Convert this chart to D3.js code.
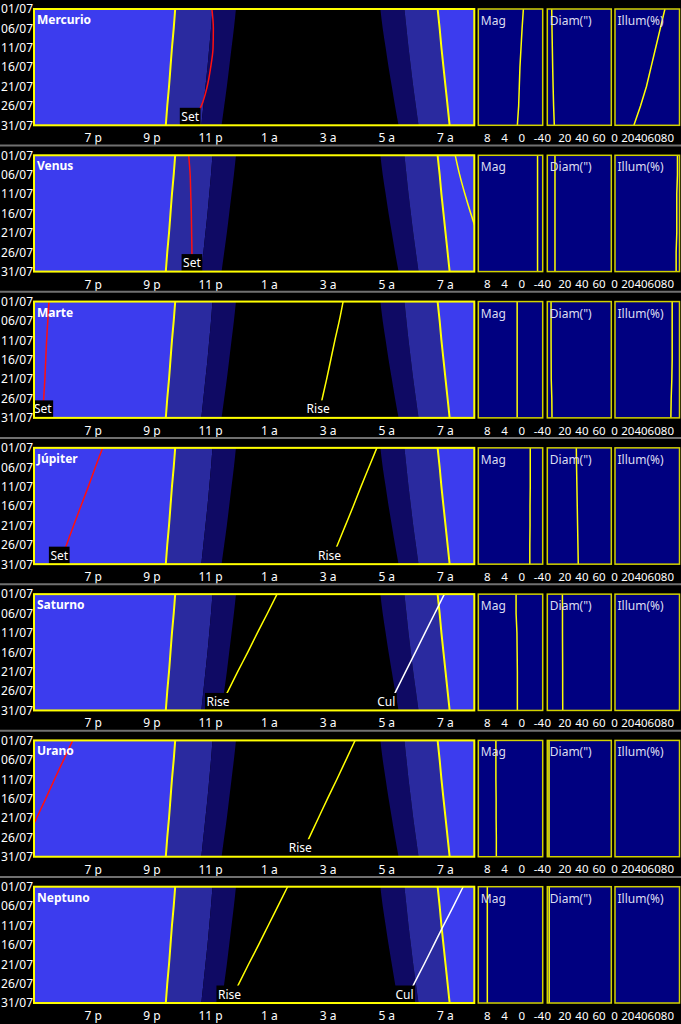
<!DOCTYPE html>
<html><head><meta charset="utf-8">
<script src="https://cdn.jsdelivr.net/npm/d3@7"></script>
<style>
body{margin:0;background:#000;}
svg{display:block;font-family:"Noto Sans","Open Sans",sans-serif;}
</style>
</head><body>
<svg id="chart" width="681" height="1024"></svg>
<script>
// ---------- data ----------
const days = [1, 6, 11, 16, 21, 26, 31];
const dateTicks = [1, 6, 11, 16, 21, 26, 31];
const dateLabels = ["01/07", "06/07", "11/07", "16/07", "21/07", "26/07", "31/07"];
const hourTicks = [19, 21, 23, 25, 27, 29, 31];
const hourLabels = ["7 p", "9 p", "11 p", "1 a", "3 a", "5 a", "7 a"];
const magTicks = [8, 4, 0, -4];
const diamTicks = [0, 20, 40, 60];
const illumTicks = [0, 20, 40, 60, 80];

// twilight boundaries (hours, morning values > 24)
const sunsetH       = [21.81, 21.76, 21.70, 21.65, 21.60, 21.54, 21.49];
const civilDuskH    = [23.08, 23.03, 22.97, 22.91, 22.84, 22.77, 22.70];
const nauticalDuskH = [23.88, 23.81, 23.73, 23.65, 23.57, 23.48, 23.39];
const nauticalDawnH = [28.80, 28.88, 28.98, 29.08, 29.19, 29.30, 29.42];
const civilDawnH    = [29.62, 29.69, 29.76, 29.84, 29.92, 30.01, 30.10];
const sunriseH      = [30.75, 30.82, 30.88, 30.95, 31.02, 31.09, 31.16];

const planetNames = ["Mercurio", "Venus", "Marte", "Júpiter", "Saturno", "Urano", "Neptuno"];

// events (hours)
const mercurioSet = [23.06, 23.11, 23.10, 23.02, 22.90, 22.70, 22.32];
const venusSet    = [22.27, 22.32, 22.34, 22.36, 22.37, 22.38, 22.38];
const venusRise   = [31.35, 31.50, 31.68, 31.88, 32.10, 32.35, 32.65];
const marteSet    = [17.51, 17.47, 17.43, 17.40, 17.37, 17.33, 17.30];
const marteRise   = [27.53, 27.40, 27.25, 27.11, 26.97, 26.82, 26.68];
const jupiterSet  = [19.34, 19.09, 18.85, 18.60, 18.35, 18.11, 17.86];
const jupiterRise = [28.68, 28.41, 28.14, 27.88, 27.61, 27.34, 27.07];
const saturnoRise = [25.28, 24.95, 24.61, 24.28, 23.94, 23.61, 23.27];
const saturnoCul  = [30.98, 30.65, 30.32, 29.99, 29.66, 29.33, 29.00];
const uranoSet    = [18.32, 18.01, 17.70, 17.40, 17.09, 16.78, 16.47];
const uranoRise   = [27.94, 27.63, 27.32, 27.00, 26.69, 26.38, 26.07];
const neptunoRise = [25.64, 25.31, 24.98, 24.65, 24.31, 23.98, 23.66];
const neptunoCul  = [31.62, 31.29, 30.95, 30.62, 30.29, 29.95, 29.62];

// magnitude, diameter ("), illumination (%)
const mercurioMag = [-0.5, -0.2, 0.05, 0.3, 0.45, 0.6, 0.9];
const mercurioDiam = [5.2, 5.5, 5.9, 6.3, 6.8, 7.4, 8.2];
const mercurioIllum = [77, 70, 63, 56, 49, 40, 30];
const venusMag = [-3.8, -3.8, -3.8, -3.8, -3.8, -3.8, -3.8];
const venusDiam = [9.0, 9.0, 9.0, 9.0, 9.0, 9.0, 9.0];
const venusIllum = [96, 96, 95, 95, 95, 94, 94];
const marteMag = [0.95, 0.95, 0.95, 0.95, 0.95, 0.95, 0.95];
const marteDiam = [4.4, 4.4, 4.4, 4.5, 4.6, 5.3, 5.5];
const marteIllum = [88, 88, 88, 88, 87.5, 86.5, 86];
const jupiterMag = [-2.1, -2.1, -2.1, -2.05, -2.05, -2.0, -2.0];
const jupiterDiam = [34.0, 34.3, 34.7, 35.1, 35.5, 35.9, 36.3];
const jupiterIllum = [99.6, 99.6, 99.6, 99.6, 99.6, 99.6, 99.6];
const saturnoMag = [1.2, 1.2, 1.0, 0.95, 0.9, 0.9, 0.9];
const saturnoDiam = [17.7, 17.8, 17.8, 17.9, 18.0, 18.0, 18.1];
const saturnoIllum = [99.8, 99.8, 99.8, 99.8, 99.8, 99.8, 99.8];
const uranoMag = [5.9, 5.9, 5.9, 5.85, 5.85, 5.8, 5.8];
const uranoDiam = [2.0, 2.0, 2.0, 2.0, 2.0, 2.0, 2.0];
const uranoIllum = [99.9, 99.9, 99.9, 99.9, 99.9, 99.9, 99.9];
const neptunoMag = [7.9, 7.9, 7.9, 7.9, 7.9, 7.9, 7.9];
const neptunoDiam = [2.2, 2.2, 2.2, 2.2, 2.2, 2.2, 2.2];
const neptunoIllum = [99.9, 99.9, 99.9, 99.9, 99.9, 99.9, 99.9];

// ---------- assemble ----------
const planets = [
  {name: planetNames[0], events: [["Set", mercurioSet]], mag: mercurioMag, diam: mercurioDiam, illum: mercurioIllum},
  {name: planetNames[1], events: [["Set", venusSet], ["Rise", venusRise]], mag: venusMag, diam: venusDiam, illum: venusIllum},
  {name: planetNames[2], events: [["Set", marteSet], ["Rise", marteRise]], mag: marteMag, diam: marteDiam, illum: marteIllum},
  {name: planetNames[3], events: [["Set", jupiterSet], ["Rise", jupiterRise]], mag: jupiterMag, diam: jupiterDiam, illum: jupiterIllum},
  {name: planetNames[4], events: [["Rise", saturnoRise], ["Cul", saturnoCul]], mag: saturnoMag, diam: saturnoDiam, illum: saturnoIllum},
  {name: planetNames[5], events: [["Set", uranoSet], ["Rise", uranoRise]], mag: uranoMag, diam: uranoDiam, illum: uranoIllum},
  {name: planetNames[6], events: [["Rise", neptunoRise], ["Cul", neptunoCul]], mag: neptunoMag, diam: neptunoDiam, illum: neptunoIllum}
];
const eventColor = {Set: "#ff1010", Rise: "#ffff00", Cul: "#ffffff"};

const W = 681, H = 1024, PH = H / 7;
const TOP = 9, BOT = 125.3;
const svg = d3.select("#chart");
svg.append("rect").attr("width", W).attr("height", H).attr("fill", "#000");

const x = d3.scaleLinear().domain([17, 32]).range([34, 474.3]);
const xMag = d3.scaleLinear().domain([10, -5]).range([478.3, 542.7]);
const xDiam = d3.scaleLinear().domain([0, 75]).range([547.3, 611.3]);
const xIll = d3.scaleLinear().domain([0, 100]).range([614.1, 680.1]);
const y = d3.scaleLinear().domain([1, 31]).range([TOP, BOT]);

const idx = days.map((d, i) => i);
const band = (a, b) => d3.area().curve(d3.curveMonotoneY)
  .y(i => y(days[i])).x0(i => x(a(i))).x1(i => x(b(i)));
const evLine = arr => d3.line().curve(d3.curveMonotoneY).x(i => x(arr[i])).y(i => y(days[i]));

const defs = svg.append("defs");
defs.append("clipPath").attr("id", "plotclip").append("rect")
  .attr("x", x(17)).attr("y", TOP).attr("width", x(32) - x(17)).attr("height", BOT - TOP);

const bandSpecs = [
  [() => 17, i => sunsetH[i], "#3c3cee"],
  [i => sunsetH[i], i => civilDuskH[i], "#2a2a9f"],
  [i => civilDuskH[i], i => nauticalDuskH[i], "#0f0a64"],
  [i => nauticalDawnH[i], i => civilDawnH[i], "#0f0a64"],
  [i => civilDawnH[i], i => sunriseH[i], "#2a2a9f"],
  [i => sunriseH[i], () => 32, "#3c3cee"]
];

function styleAxis(g) {
  g.select(".domain").remove();
  g.selectAll("text").attr("fill", "#ffffff").style("font-size", "12px")
    .style("font-family", '"Noto Sans","Open Sans",sans-serif');
}

planets.forEach((p, pi) => {
  const g = svg.append("g").attr("transform", `translate(0,${pi * PH})`);

  // main plot
  const plot = g.append("g").attr("clip-path", "url(#plotclip)");
  plot.append("rect").attr("x", x(17)).attr("y", TOP).attr("width", x(32) - x(17))
    .attr("height", BOT - TOP).attr("fill", "#000");
  bandSpecs.forEach(([a, b, c]) => {
    plot.append("path").attr("d", band(a, b)(idx)).attr("fill", c);
  });
  [sunsetH, sunriseH].forEach(arr => {
    plot.append("path").attr("d", evLine(arr)(idx)).attr("fill", "none")
      .attr("stroke", "#ffff00").attr("stroke-width", 2);
  });
  p.events.forEach(([type, arr]) => {
    plot.append("path").attr("d", evLine(arr)(idx)).attr("fill", "none")
      .attr("stroke", eventColor[type]).attr("stroke-width", 1.5);
  });
  // event labels at bottom end
  p.events.forEach(([type, arr]) => {
    const last = arr[arr.length - 1];
    if (last < 17 || last > 32) return;
    const cx = x(last);
    const lg = g.append("g");
    const t = lg.append("text").attr("x", cx).attr("y", BOT - 4.5)
      .attr("text-anchor", "middle").attr("fill", "#ffffff")
      .style("font-size", "12px").text(type);
    const w = t.node().getComputedTextLength();
    lg.insert("rect", "text").attr("x", cx - w / 2 - 1.5).attr("y", BOT - 17.5)
      .attr("width", w + 3).attr("height", 17.5).attr("fill", "#000");
  });
  g.append("rect").attr("x", x(17)).attr("y", TOP).attr("width", x(32) - x(17))
    .attr("height", BOT - TOP).attr("fill", "none").attr("stroke", "#ffff00").attr("stroke-width", 2);
  g.append("text").attr("x", 37).attr("y", 24).attr("fill", "#ffffff")
    .style("font-size", "12px").style("font-weight", "bold").text(p.name);

  // axes of main plot
  g.append("g").attr("transform", `translate(33,0)`)
    .call(d3.axisLeft(y).tickValues(dateTicks).tickSize(0).tickPadding(0)
      .tickFormat((d, i) => dateLabels[i])).call(styleAxis);
  g.append("g").attr("transform", `translate(0,${BOT})`)
    .call(d3.axisBottom(x).tickValues(hourTicks).tickSize(0).tickPadding(8.5)
      .tickFormat((d, i) => hourLabels[i])).call(styleAxis);

  // small panels
  const smalls = [
    ["Mag", xMag, p.mag, magTicks, 478.3, 542.7],
    ["Diam(\")", xDiam, p.diam, diamTicks, 547.3, 611.3],
    ["Illum(%)", xIll, p.illum, illumTicks, 615, 679.5]
  ];
  smalls.forEach(([title, sx, vals, ticks, x0, x1], si) => {
    const id = `sc${pi}_${si}`;
    defs.append("clipPath").attr("id", id).append("rect")
      .attr("x", x0).attr("y", TOP).attr("width", x1 - x0).attr("height", BOT - TOP);
    g.append("rect").attr("x", x0).attr("y", TOP).attr("width", x1 - x0).attr("height", BOT - TOP)
      .attr("fill", "#000080");
    g.append("path").attr("clip-path", `url(#${id})`)
      .attr("d", d3.line().x(i => sx(vals[i])).y(i => y(days[i]))(idx))
      .attr("fill", "none").attr("stroke", "#ffff00").attr("stroke-width", 1.5);
    g.append("rect").attr("x", x0).attr("y", TOP).attr("width", x1 - x0).attr("height", BOT - TOP)
      .attr("fill", "none").attr("stroke", "#d2d200").attr("stroke-width", 1.5);
    g.append("text").attr("x", x0 + 2.5).attr("y", 25).attr("fill", "#dcdcf0")
      .style("font-size", "12px").text(title);
    g.append("g").attr("transform", `translate(0,${BOT})`)
      .call(d3.axisBottom(sx).tickValues(ticks).tickSize(0).tickPadding(8.5)
        .tickFormat(d => String(d))).call(styleAxis)
      .selectAll("text").style("font-size", "11.5px");
  });

  if (pi < 6) {
    g.append("line").attr("x1", 0).attr("x2", W).attr("y1", PH - 0.8).attr("y2", PH - 0.8)
      .attr("stroke", "#707070").attr("stroke-width", 2);
  }
});
</script>
</body></html>
